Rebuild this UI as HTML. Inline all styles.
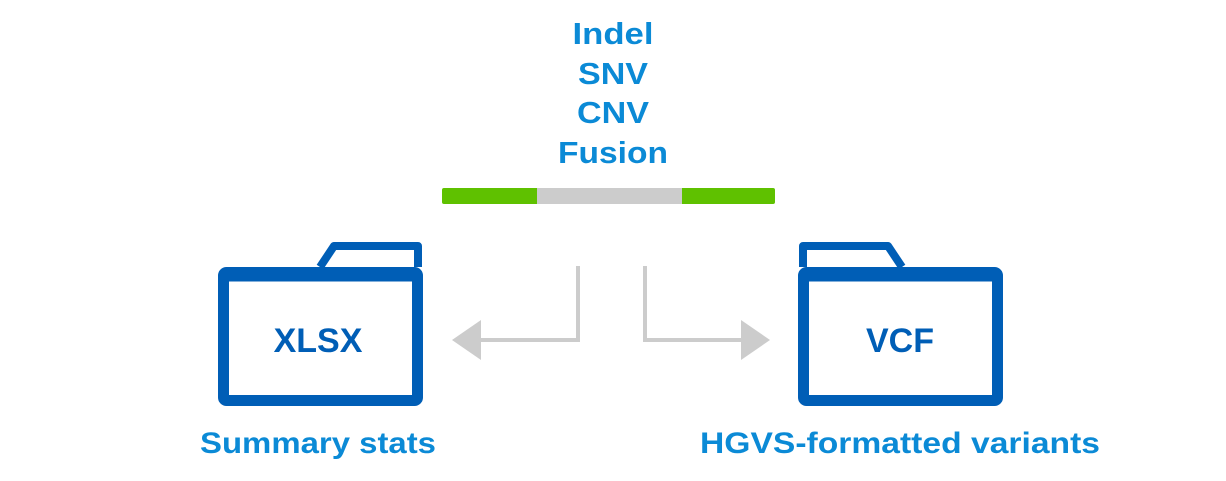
<!DOCTYPE html>
<html><head><style>
html,body{margin:0;padding:0;background:#fff;}
body{width:1226px;height:481px;overflow:hidden;position:relative;}
svg{position:absolute;left:0;top:0;}
</style></head><body>
<svg width="1226" height="481" viewBox="0 0 1226 481" xmlns="http://www.w3.org/2000/svg">
<g font-family="'Liberation Sans', sans-serif" font-weight="bold" text-anchor="middle" fill="#0b8ad6" font-size="31">
<text x="613" y="44" textLength="81" lengthAdjust="spacingAndGlyphs">Indel</text>
<text x="613" y="84" textLength="70" lengthAdjust="spacingAndGlyphs">SNV</text>
<text x="613" y="123" textLength="72" lengthAdjust="spacingAndGlyphs">CNV</text>
<text x="613" y="163" textLength="110" lengthAdjust="spacingAndGlyphs">Fusion</text>
<text x="318" y="453" font-size="30" textLength="236" lengthAdjust="spacingAndGlyphs">Summary stats</text>
<text x="900" y="453" font-size="30" textLength="400" lengthAdjust="spacingAndGlyphs">HGVS-formatted variants</text>
</g>
<rect x="442" y="188" width="333" height="16" rx="2" fill="#5fc100"/>
<rect x="537" y="188" width="145" height="16" fill="#cccccc"/>
<g fill="none" stroke="#005eb6" stroke-linejoin="round">
<rect x="223.5" y="272.5" width="194" height="128" rx="3" stroke-width="11"/>
<rect x="223.5" y="274" width="194" height="3" stroke-width="9"/>
<path d="M320 267 L334 246 L418 246 L418 267" stroke-width="8"/>
<rect x="803.5" y="272.5" width="194" height="128" rx="3" stroke-width="11"/>
<rect x="803.5" y="274" width="194" height="3" stroke-width="9"/>
<path d="M803 267 L803 246 L888 246 L902 267" stroke-width="8"/>
</g>
<g font-family="'Liberation Sans', sans-serif" font-weight="bold" text-anchor="middle" fill="#005eb6" font-size="34">
<text x="318" y="352">XLSX</text>
<text x="900" y="352">VCF</text>
</g>
<g fill="none" stroke="#cccccc" stroke-width="4">
<path d="M578 266 L578 340 L478 340"/>
<path d="M645 266 L645 340 L745 340"/>
</g>
<g fill="#cccccc">
<polygon points="452,340 481,320 481,360"/>
<polygon points="770,340 741,320 741,360"/>
</g>
</svg>
</body></html>
